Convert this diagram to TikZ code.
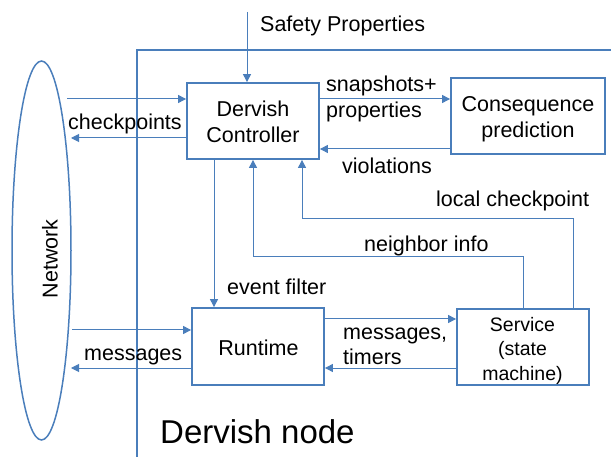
\documentclass[tikz,border=0pt]{standalone}
\usepackage{fontspec}
\setmainfont{Liberation Sans}
\usetikzlibrary{arrows.meta,shapes.geometric}
\definecolor{edge}{HTML}{4A7EBB}
\begin{document}
\begin{tikzpicture}[x=1pt,y=-1pt,
  box/.style={draw=edge, line width=1.8pt, inner sep=0pt},
  boxtext/.style={inner sep=0pt, align=center, font=\fontsize{21.5}{26}\selectfont},
  flow/.style={draw=edge, line width=1pt, -{Triangle[length=8pt,width=8pt]}},
  lbl/.style={inner sep=0pt, font=\fontsize{21.5}{25.5}\selectfont},
]
\useasboundingbox (0,0) rectangle (611,457);

% outer frame of the node
\draw[edge, line width=1.8pt] (137,470) -- (137,50) -- (620,50);

% network cloud
\node[draw=edge, line width=1.5pt, ellipse, minimum width=59, minimum height=379,
  inner sep=0pt] (net) at (41.5,250.5) {};
\node[lbl, rotate=90, anchor=base] (netlbl) at (57.5,259) {Network};

% components
\node[box, minimum width=132, minimum height=76] (ctrl) at (253,121) {};
\node[box, minimum width=154, minimum height=76] (cons) at (528,116) {};
\node[box, minimum width=132, minimum height=77] (run) at (258,346.5) {};
\node[box, minimum width=132, minimum height=76] (svc) at (523,347) {};

\node[boxtext] (ctrltxt) at (253,122) {Dervish\\Controller};
\node[boxtext, font=\fontsize{21.5}{25.6}\selectfont] (constxt) at (528,119) {Consequence\\prediction};
\node[boxtext] (runtxt) at (258.5,348) {Runtime};
\node[boxtext, font=\fontsize{19.5}{24.2}\selectfont] (svctxt) at (522.5,350.8) {Service\\(state\\machine)};

% helper points
\coordinate (sp) at (247,12);
\coordinate (n1) at (67,99);
\coordinate (n2) at (71,138);
\coordinate (vi) at (0,149);
\coordinate (ef) at (214,0);
\coordinate (nb) at (253,257);
\coordinate (lc) at (302,219);
\coordinate (lcs) at (573,0);
\coordinate (n3) at (72,330);
\coordinate (n4) at (71,368);
\coordinate (rs) at (0,319);

% connectors
\draw[flow] (sp) -- (ctrl.north -| sp);
\draw[flow] (n1) -- (ctrl.west |- n1);
\draw[flow] (ctrl.west |- n2) -- (n2);
\draw[flow] (ctrl.east |- n1) -- (cons.west |- n1);
\draw[flow] (cons.west |- vi) -- (ctrl.east |- vi);
\draw[flow] (ctrl.south -| ef) -- (run.north -| ef);
\draw[flow] (svc.north) |- (nb) -- (ctrl.south);
\draw[flow] (svc.north -| lcs) |- (lc) -- (ctrl.south -| lc);
\draw[flow] (n3) -- (run.west |- n3);
\draw[flow] (run.west |- n4) -- (n4);
\draw[flow] (run.east |- rs) -- (svc.west |- rs);
\draw[flow] (svc.west |- n4) -- (run.east |- n4);

% labels
\node[lbl, anchor=base west] (tsp) at (260,31.5) {Safety Properties};
\node[lbl, anchor=base west] (tck) at (68,129.3) {checkpoints};
\node[lbl, anchor=west, align=left] (tsn) at (326,98.7) {snapshots+\\properties};
\node[lbl, anchor=base west] (tvi) at (342,174) {violations};
\node[lbl, anchor=base west] (tlc) at (436,206.7) {local checkpoint};
\node[lbl, anchor=base west] (tnb) at (364,251.7) {neighbor info};
\node[lbl, anchor=base west] (tef) at (227,295) {event filter};
\node[lbl, anchor=base west] (tms) at (84,360) {messages};
\node[lbl, anchor=west, align=left] (tmt) at (343,346.5) {messages,\\timers};
\node[inner sep=0pt, anchor=base west, font=\fontsize{33}{38}\selectfont] (tdn)
  at (160,443.3) {Dervish node};
\end{tikzpicture}
\end{document}
